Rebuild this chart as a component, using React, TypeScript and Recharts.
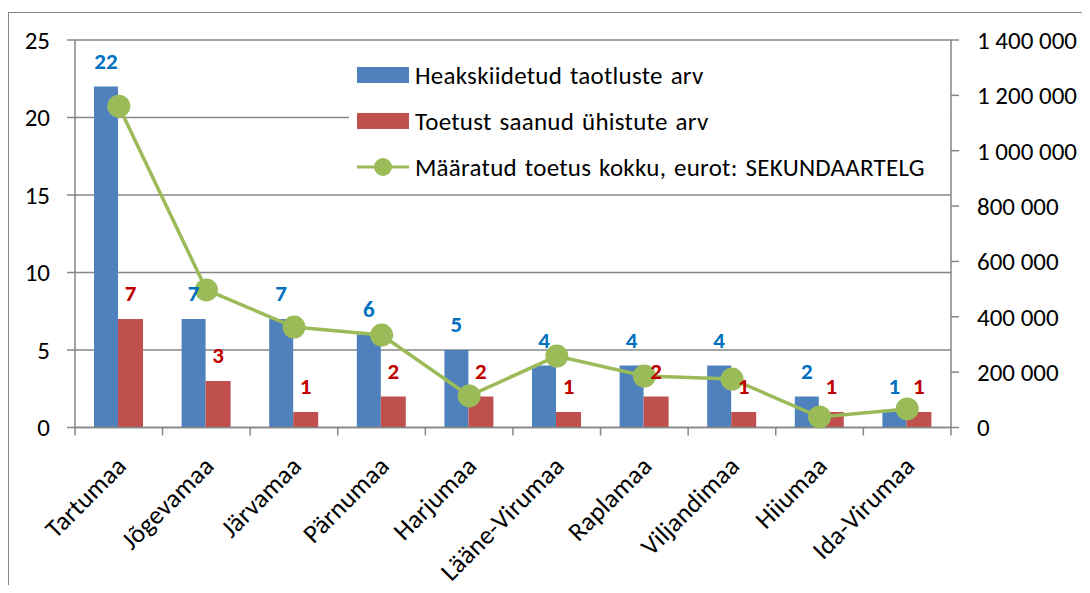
import { Bar, CartesianGrid, ComposedChart, LabelList, Legend, Line, XAxis, YAxis } from "recharts";

const categories = [
  "Tartumaa",
  "Jõgevamaa",
  "Järvamaa",
  "Pärnumaa",
  "Harjumaa",
  "Lääne-Virumaa",
  "Raplamaa",
  "Viljandimaa",
  "Hiiumaa",
  "Ida-Virumaa",
];
const approved = [22, 7, 7, 6, 5, 4, 4, 4, 2, 1];
const received = [7, 3, 1, 2, 2, 1, 2, 1, 1, 1];
const totalEur = [1161000, 497000, 363000, 334000, 114000, 258000, 186000, 175000, 38000, 67000];

const leftTicks = [0, 5, 10, 15, 20, 25];
const rightTicks = [0, 200000, 400000, 600000, 800000, 1000000, 1200000, 1400000];

const data = categories.map((name, i) => ({
  name,
  approved: approved[i],
  received: received[i],
  total: totalEur[i],
}));

const FONT = "Carlito, Lato, 'Liberation Sans', sans-serif";
const AXIS = "#868686";
const BLUE = "#4F81BD";
const RED = "#C0504D";
const GREEN = "#9BBB59";

const PLOT_W = 875;

const fmt = (v: number) => v.toString().replace(/\B(?=(\d{3})+(?!\d))/g, " ");

const CategoryTick = (props: any) => {
  const { x, y, payload, index } = props;
  const half = PLOT_W / categories.length / 2;
  const tx = x + 9;
  const ty = y + 40;
  return (
    <g>
      {index === 0 && <line x1={x - half} y1={y} x2={x - half} y2={y + 8} stroke={AXIS} strokeWidth={1.5} />}
      <line x1={x + half} y1={y} x2={x + half} y2={y + 8} stroke={AXIS} strokeWidth={1.5} />
      <text
        x={tx}
        y={ty}
        transform={`rotate(-45, ${tx}, ${ty})`}
        textAnchor="end"
        fontSize={26}
        letterSpacing={0.2}
        fontFamily={FONT}
        fill="#000"
      >
        {payload.value}
      </text>
    </g>
  );
};

const LegendBox = () => (
  <div style={{ fontFamily: FONT, fontSize: 25, letterSpacing: 0.25, wordSpacing: 2, color: "#000" }}>
    {[
      { label: "Heakskiidetud taotluste arv", kind: "bar", color: BLUE },
      { label: "Toetust saanud ühistute arv", kind: "bar", color: RED },
      { label: "Määratud toetus kokku, eurot: SEKUNDAARTELG", kind: "line", color: GREEN },
    ].map((item, i) => (
      <div key={i} style={{ display: "flex", alignItems: "center", height: 46, whiteSpace: "nowrap" }}>
        <svg width={58} height={24} style={{ marginLeft: 8, flexShrink: 0 }}>
          {item.kind === "bar" ? (
            <rect x={0} y={4} width={52} height={16} fill={item.color} />
          ) : (
            <g>
              <line x1={0} y1={12} x2={52} y2={12} stroke={item.color} strokeWidth={3} />
              <circle cx={26} cy={12} r={9} fill={item.color} />
            </g>
          )}
        </svg>
        <span>{item.label}</span>
      </div>
    ))}
  </div>
);

const App = () => {
  return (
    <div style={{ position: "relative", width: 1090, height: 593, margin: -8, overflow: "hidden", background: "#fff" }}>
      <div
        style={{
          position: "absolute",
          left: 8,
          top: 12,
          width: 1100,
          height: 600,
          border: `1.5px solid ${AXIS}`,
          boxSizing: "border-box",
        }}
      />
      <div style={{ position: "absolute", left: 0, top: 0 }}>
        <ComposedChart
          width={1090}
          height={593}
          data={data}
          margin={{ top: 40, right: 0, bottom: 0, left: 0 }}
          barGap={0}
        >
          <CartesianGrid yAxisId="left" vertical={false} stroke={AXIS} strokeWidth={1.5} />
          <XAxis
            dataKey="name"
            height={165.5}
            axisLine={{ stroke: AXIS, strokeWidth: 1.5 }}
            tickLine={false}
            tickSize={0}
            tickMargin={0}
            interval={0}
            tick={<CategoryTick />}
          />
          <YAxis
            yAxisId="left"
            orientation="left"
            width={75}
            domain={[0, 25]}
            ticks={leftTicks}
            interval={0}
            axisLine={{ stroke: AXIS, strokeWidth: 1.5 }}
            tickLine={{ stroke: AXIS, strokeWidth: 1.5 }}
            tickSize={8}
            tickMargin={17}
            tick={{ fill: "#000", fontSize: 25, fontFamily: FONT }}
          />
          <YAxis
            yAxisId="right"
            orientation="right"
            width={139}
            domain={[0, 1400000]}
            ticks={rightTicks}
            interval={0}
            axisLine={{ stroke: AXIS, strokeWidth: 1.5 }}
            tickLine={{ stroke: AXIS, strokeWidth: 1.5 }}
            tickSize={8}
            tickMargin={18}
            tickFormatter={fmt}
            tick={{ fill: "#000", fontSize: 25, fontFamily: FONT }}
          />
          <Legend
            layout="vertical"
            align="center"
            verticalAlign="middle"
            wrapperStyle={{ left: 349, top: 44, width: 601, height: 150, background: "#fff", paddingTop: 8, boxSizing: "border-box" }}
            content={<LegendBox />}
          />
          <Bar yAxisId="left" dataKey="approved" fill={BLUE} barSize={24} isAnimationActive={false}>
            <LabelList dataKey="approved" position="top" offset={18} fill="#0070C0" fontSize={23} fontWeight="bold" fontFamily={FONT} />
          </Bar>
          <Bar yAxisId="left" dataKey="received" fill={RED} barSize={25} isAnimationActive={false}>
            <LabelList dataKey="received" position="top" offset={18} fill="#C00000" fontSize={23} fontWeight="bold" fontFamily={FONT} />
          </Bar>
          <Line
            yAxisId="right"
            dataKey="total"
            stroke={GREEN}
            strokeWidth={3.5}
            dot={{ r: 11.5, fill: GREEN, stroke: GREEN, strokeWidth: 0 }}
            activeDot={false}
            isAnimationActive={false}
          />
        </ComposedChart>
      </div>
    </div>
  );
};

export default App;
